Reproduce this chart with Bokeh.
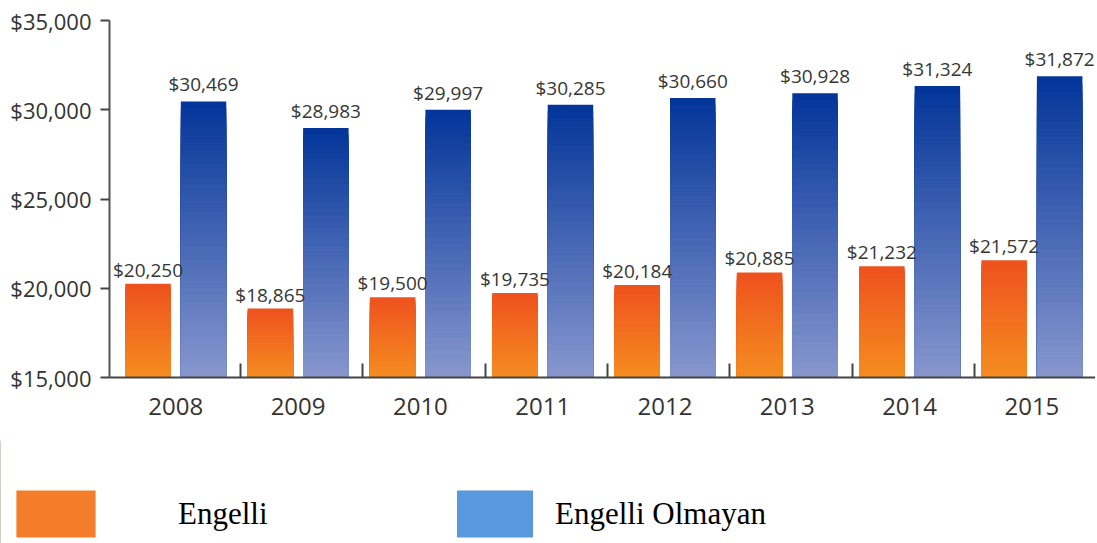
import numpy as np
from bokeh.plotting import figure
from bokeh.layouts import column
from bokeh.models import (ColumnDataSource, Range1d, FixedTicker, NumeralTickFormatter,
                          Legend, LegendItem)
from bokeh.core.properties import value
from bokeh.embed import file_html
from bokeh.resources import INLINE

# ---- data ----
years = ["2008", "2009", "2010", "2011", "2012", "2013", "2014", "2015"]
engelli = [20250, 18865, 19500, 19735, 20184, 20885, 21232, 21572]
engelli_olmayan = [30469, 28983, 29997, 30285, 30660, 30928, 31324, 31872]
y_ticks = [15000, 20000, 25000, 30000, 35000]
series_names = ["Engelli", "Engelli Olmayan"]

BASE = 15000
N = 40
OFF = 0.227
W = 0.372
WIDTH = 1095


def hex2rgb(h):
    h = h.lstrip("#")
    return [int(h[i:i + 2], 16) for i in (0, 2, 4)]


def mix(c1, c2, t):
    a, b = hex2rgb(c1), hex2rgb(c2)
    return "#%02x%02x%02x" % tuple(int(round(a[i] + (b[i] - a[i]) * t)) for i in range(3))


def gradient_source(xs, vals, c_top, c_bot):
    x, top, color = [], [], []
    for k in range(N):
        col = mix(c_top, c_bot, k / (N - 1))
        for xi, v in zip(xs, vals):
            x.append(xi)
            top.append(BASE + (v - BASE) * (1 - k / N))
            color.append(col)
    return ColumnDataSource(dict(x=x, top=top, color=color))


idx = np.arange(len(years))
x_or = idx - OFF
x_bl = idx + OFF

p = figure(width=WIDTH, height=440, output_backend="svg", toolbar_location=None,
           x_range=Range1d(-0.542, 7.52), y_range=Range1d(15000, 35000),
           min_border_left=109, min_border_right=0, min_border_top=20,
           min_border_bottom=63)
p.frame_align = False
p.background_fill_color = "white"
p.border_fill_color = "white"
p.outline_line_color = None
p.xgrid.visible = False
p.ygrid.visible = False

src_or = gradient_source(x_or, engelli, "#ee521e", "#f58c20")
src_bl = gradient_source(x_bl, engelli_olmayan, "#04369a", "#8696cd")
p.vbar(x="x", top="top", bottom=BASE, width=W, fill_color="color", line_color=None, source=src_or)
p.vbar(x="x", top="top", bottom=BASE, width=W, fill_color="color", line_color=None, source=src_bl)

# value labels
lab_or = ColumnDataSource(dict(x=list(x_or), y=engelli, t=["${:,}".format(v) for v in engelli]))
lab_bl = ColumnDataSource(dict(x=list(x_bl), y=engelli_olmayan,
                               t=["${:,}".format(v) for v in engelli_olmayan]))
for src, off in ((lab_or, -14), (lab_bl, -17)):
    p.text(x="x", y="y", text="t", source=src, text_align="center", text_baseline="alphabetic",
           y_offset=off, text_font=value("Open Sans"), text_font_size="19px",
           text_color="#363636")

# axes
ax = p.xaxis[0]
ax.ticker = FixedTicker(ticks=list(idx), minor_ticks=[i + 0.53 for i in range(len(years) - 1)])
ax.major_label_overrides = {int(i): years[i] for i in idx}
ax.major_tick_in = 0
ax.major_tick_out = 0
ax.minor_tick_in = 14
ax.minor_tick_out = 0
ax.minor_tick_line_width = 2
ax.minor_tick_line_color = "#444444"
ax.axis_line_width = 2
ax.axis_line_color = "#444444"
ax.major_label_standoff = 20
ax.major_label_text_font = "Open Sans"
ax.major_label_text_font_size = "24px"
ax.major_label_text_color = "#333333"

ay = p.yaxis[0]
ay.ticker = FixedTicker(ticks=y_ticks)
ay.formatter = NumeralTickFormatter(format="$0,0")
ay.major_tick_in = 0
ay.major_tick_out = 9
ay.minor_tick_in = 0
ay.minor_tick_out = 0
ay.major_tick_line_width = 2
ay.major_tick_line_color = "#444444"
ay.axis_line_width = 2
ay.axis_line_color = "#555555"
ay.major_label_standoff = 9
ay.major_label_text_font = "Open Sans"
ay.major_label_text_font_size = "22px"
ay.major_label_text_color = "#333333"

# ---- legend strip ----
lg = figure(width=WIDTH, height=103, output_backend="svg", toolbar_location=None,
            x_range=Range1d(0, 1), y_range=Range1d(0, 1),
            x_axis_type=None, y_axis_type=None,
            min_border_left=0, min_border_right=0, min_border_top=0, min_border_bottom=0)
lg.frame_align = False
lg.outline_line_color = None
lg.background_fill_color = "white"
lg.border_fill_color = "white"
lg.xgrid.visible = False
lg.ygrid.visible = False
r1 = lg.vbar(x=[-5], top=[1], bottom=0, width=0.1, fill_color="#f37d2b", line_color=None)
r2 = lg.vbar(x=[-5], top=[1], bottom=0, width=0.1, fill_color="#5898dc", line_color=None)

common = dict(orientation="horizontal", padding=0, margin=0, border_line_alpha=0,
              background_fill_alpha=0, label_text_font="Liberation Serif",
              label_text_font_size="31px", label_text_color="black", glyph_height=59)
leg1 = Legend(items=[LegendItem(label=series_names[0], renderers=[r1])],
              location=(6, 0), glyph_width=99, label_standoff=73, **common)
leg2 = Legend(items=[LegendItem(label=series_names[1], renderers=[r2])],
              location=(447, 0), glyph_width=95, label_standoff=13, **common)
lg.add_layout(leg1, "center")
lg.add_layout(leg2, "center")

layout = column(p, lg, spacing=0)
open("out.html", "w").write(file_html(layout, INLINE))
